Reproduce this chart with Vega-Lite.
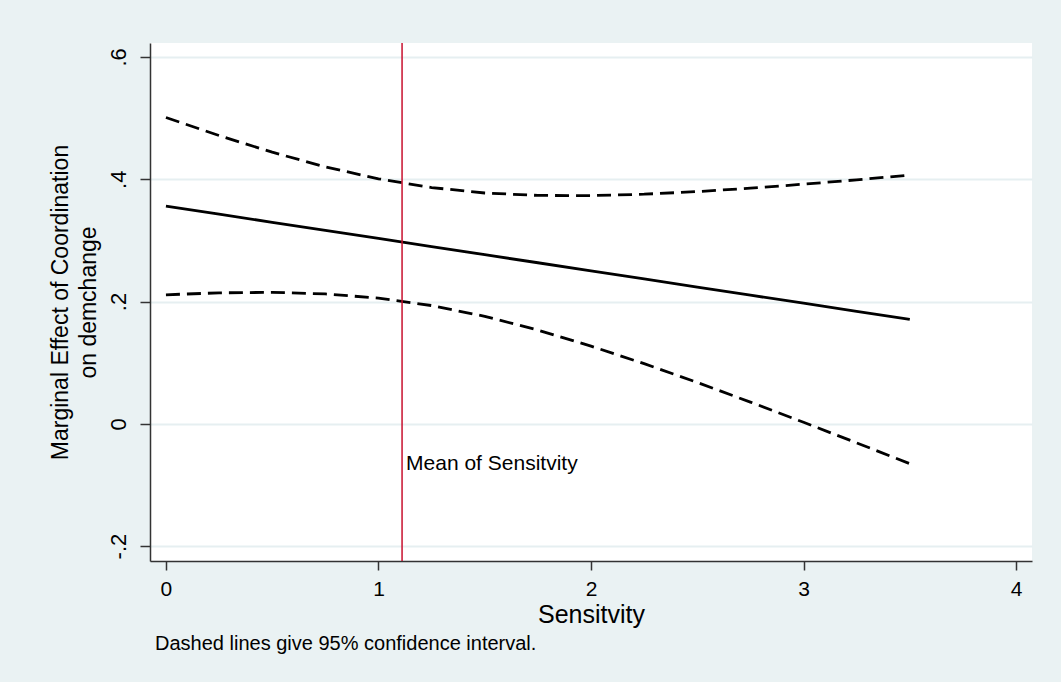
{
  "$schema": "https://vega.github.io/schema/vega-lite/v6.json",
  "width": 882,
  "height": 518,
  "autosize": {"type": "none"},
  "padding": {"left": 150, "top": 43, "right": 29, "bottom": 121},
  "background": "#EAF2F3",
  "config": {
    "font": "Liberation Sans",
    "view": {"fill": "#FFFFFF", "stroke": null},
    "axis": {"labelFont": "Liberation Sans", "titleFont": "Liberation Sans", "labelColor": "#000000", "titleColor": "#000000", "domainColor": "#333333", "tickColor": "#333333", "titleFontWeight": "normal"}
  },
  "title": {
    "text": "Dashed lines give 95% confidence interval.",
    "orient": "bottom",
    "anchor": "start",
    "frame": "group",
    "fontSize": 20,
    "fontWeight": "normal",
    "color": "#000000",
    "offset": 7,
    "dx": 5
  },
  "data": {
    "values": [
      {"s": 0.0, "me": 0.3560, "lo": 0.2110, "hi": 0.5010},
      {"s": 0.25, "me": 0.3428, "lo": 0.2142, "hi": 0.4714},
      {"s": 0.5, "me": 0.3296, "lo": 0.2150, "hi": 0.4442},
      {"s": 0.75, "me": 0.3163, "lo": 0.2124, "hi": 0.4202},
      {"s": 1.0, "me": 0.3031, "lo": 0.2055, "hi": 0.4007},
      {"s": 1.25, "me": 0.2899, "lo": 0.1934, "hi": 0.3864},
      {"s": 1.5, "me": 0.2766, "lo": 0.1757, "hi": 0.3775},
      {"s": 1.75, "me": 0.2634, "lo": 0.1533, "hi": 0.3735},
      {"s": 2.0, "me": 0.2501, "lo": 0.1270, "hi": 0.3732},
      {"s": 2.25, "me": 0.2369, "lo": 0.0983, "hi": 0.3755},
      {"s": 2.5, "me": 0.2237, "lo": 0.0676, "hi": 0.3798},
      {"s": 2.75, "me": 0.2104, "lo": 0.0355, "hi": 0.3853},
      {"s": 3.0, "me": 0.1972, "lo": 0.0025, "hi": 0.3919},
      {"s": 3.25, "me": 0.1839, "lo": -0.0312, "hi": 0.3990},
      {"s": 3.5, "me": 0.1707, "lo": -0.0653, "hi": 0.4067}
    ]
  },
  "encoding": {
    "x": {
      "field": "s", "type": "quantitative",
      "scale": {"domain": [-0.075, 4.075], "nice": false, "zero": false},
      "axis": {
        "title": "Sensitvity", "titleFontSize": 25, "titlePadding": 3,
        "values": [0, 1, 2, 3, 4], "format": "d",
        "labelFontSize": 21, "tickSize": 9, "labelPadding": 8,
        "grid": false, "domainWidth": 1.5, "tickWidth": 1.5
      }
    }
  },
  "layer": [
    {
      "mark": {"type": "line", "color": "#000000", "strokeWidth": 2.8},
      "encoding": {
        "y": {
          "field": "me", "type": "quantitative",
          "scale": {"domain": [-0.2244, 0.6228], "nice": false, "zero": false},
          "axis": {
            "title": ["Marginal Effect of Coordination", "on demchange"],
            "titleFontSize": 23, "titleLineHeight": 28, "titlePadding": 7,
            "values": [-0.2, 0, 0.2, 0.4, 0.6],
            "labelExpr": "datum.value == 0 ? '0' : (datum.value < 0 ? '-' : '') + replace(format(abs(datum.value), '.1f'), '0.', '.')",
            "labelAngle": -90, "labelAlign": "center", "labelBaseline": "bottom",
            "labelFontSize": 22, "tickSize": 10, "labelPadding": 10,
            "grid": true, "gridColor": "#E6EFF1", "gridWidth": 2,
            "domainWidth": 1.5, "tickWidth": 1.5
          }
        }
      }
    },
    {
      "mark": {"type": "line", "color": "#000000", "strokeWidth": 2.8, "strokeDash": [14, 7]},
      "encoding": {"y": {"field": "lo", "type": "quantitative"}}
    },
    {
      "mark": {"type": "line", "color": "#000000", "strokeWidth": 2.8, "strokeDash": [14, 7]},
      "encoding": {"y": {"field": "hi", "type": "quantitative"}}
    },
    {
      "data": {"values": [{"mean": 1.111, "ly": -0.065, "label": "Mean of Sensitvity"}]},
      "layer": [
        {
          "mark": {"type": "rule", "color": "#C8102E", "strokeWidth": 1.5},
          "encoding": {"x": {"field": "mean", "type": "quantitative"}}
        },
        {
          "mark": {"type": "text", "align": "left", "baseline": "middle", "dx": 4, "fontSize": 21, "font": "Liberation Sans", "color": "#000000"},
          "encoding": {
            "x": {"field": "mean", "type": "quantitative"},
            "y": {"field": "ly", "type": "quantitative"},
            "text": {"field": "label"}
          }
        }
      ]
    }
  ]
}
